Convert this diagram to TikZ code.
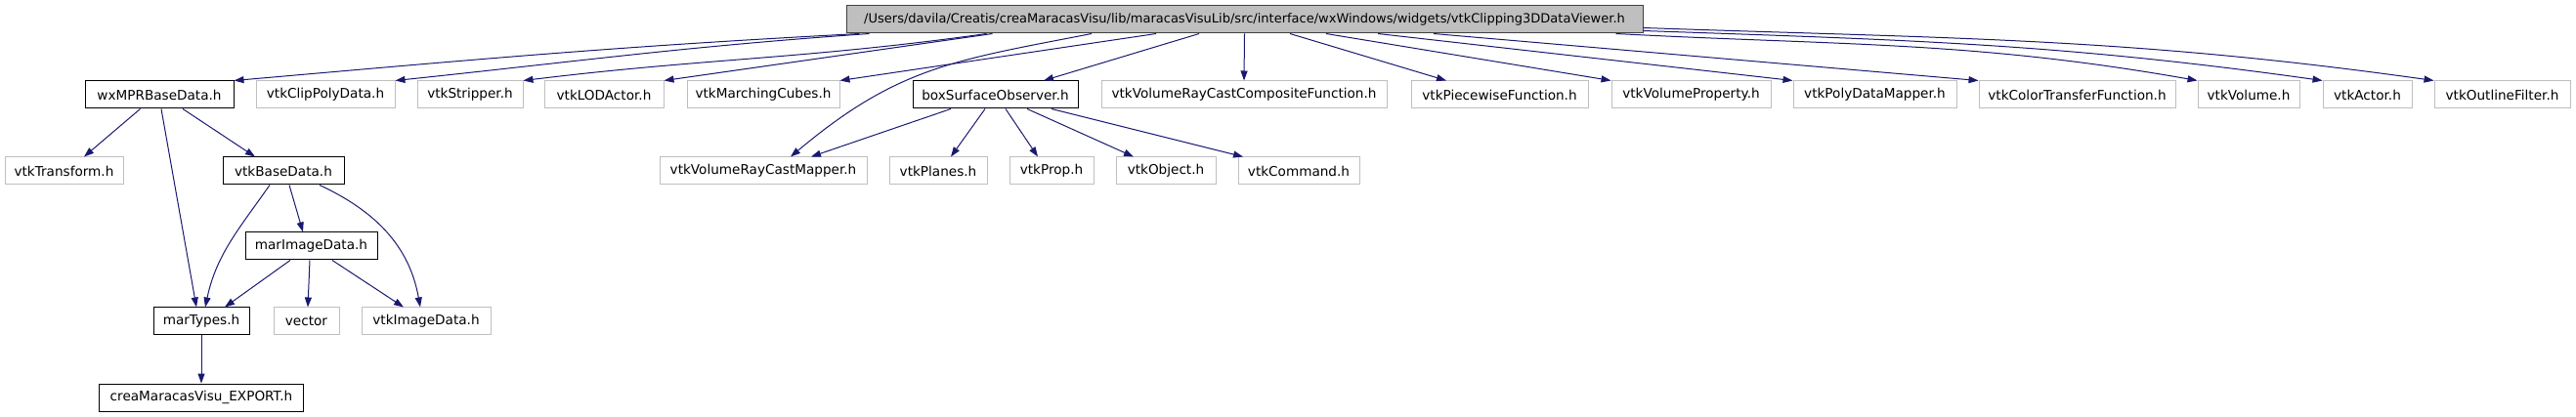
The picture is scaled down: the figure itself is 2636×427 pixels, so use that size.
\documentclass[tikz,border=0pt]{standalone}
\usepackage{fontspec}
\setmainfont{DejaVu Sans}
\usetikzlibrary{arrows.meta}
\definecolor{edgeblue}{HTML}{191970}
\definecolor{undocgray}{HTML}{BFBFBF}
\definecolor{rootfill}{HTML}{BFBFBF}
\definecolor{rootdraw}{HTML}{404040}
\begin{document}
\begin{tikzpicture}[x=1pt,y=-1pt,
  box/.style={rectangle, inner sep=0pt, minimum height=28pt, line width=1pt, fill=white,
    font=\fontsize{13.6}{16}\selectfont},
  doc/.style={box, draw=black},
  undoc/.style={box, draw=undocgray},
  rootbox/.style={box, draw=rootdraw, fill=rootfill, font=\fontsize{13.0}{16}\selectfont},
  dep/.style={draw=edgeblue, line width=1pt, -{Triangle[length=10pt,width=7pt]}}]
\useasboundingbox (0,0) rectangle (2636,427);
% row 0
\node[rootbox, minimum width=815pt] (root) at (1273.5,20) {/Users/davila/Creatis/creaMaracasVisu/lib/maracasVisuLib/src/interface/wxWindows/widgets/vtkClipping3DDataViewer.h};
% row 1
\node[doc, minimum width=152pt] (wxmpr) at (163,97) {wxMPRBaseData.h};
\node[undoc, minimum width=142pt] (clip) at (333,97) {vtkClipPolyData.h};
\node[undoc, minimum width=108pt] (strip) at (481,97) {vtkStripper.h};
\node[undoc, minimum width=122pt] (lod) at (618,97) {vtkLODActor.h};
\node[undoc, minimum width=156pt] (mc) at (781,97) {vtkMarchingCubes.h};
\node[doc, minimum width=169pt] (bso) at (1018.5,97) {boxSurfaceObserver.h};
\node[undoc, minimum width=292pt] (comp) at (1273,97) {vtkVolumeRayCastCompositeFunction.h};
\node[undoc, minimum width=181pt] (piece) at (1534.5,97) {vtkPiecewiseFunction.h};
\node[undoc, minimum width=163pt] (vprop) at (1730.5,97) {vtkVolumeProperty.h};
\node[undoc, minimum width=167pt] (pdm) at (1918.5,97) {vtkPolyDataMapper.h};
\node[undoc, minimum width=201pt] (ctf) at (2125.5,97) {vtkColorTransferFunction.h};
\node[undoc, minimum width=104pt] (vol) at (2301,97) {vtkVolume.h};
\node[undoc, minimum width=91pt] (actor) at (2422.5,97) {vtkActor.h};
\node[undoc, minimum width=139pt] (outline) at (2560.5,97) {vtkOutlineFilter.h};
% row 2
\node[undoc, minimum width=121pt] (transform) at (65.5,175) {vtkTransform.h};
\node[doc, minimum width=124pt] (basedata) at (290,175) {vtkBaseData.h};
\node[undoc, minimum width=212pt] (vrcm) at (781,175) {vtkVolumeRayCastMapper.h};
\node[undoc, minimum width=100pt] (planes) at (960,175) {vtkPlanes.h};
\node[undoc, minimum width=86pt] (prop) at (1076,175) {vtkProp.h};
\node[undoc, minimum width=102pt] (object) at (1193,175) {vtkObject.h};
\node[undoc, minimum width=124pt] (command) at (1329,175) {vtkCommand.h};
% row 3
\node[doc, minimum width=135pt] (marimg) at (318.5,252) {marImageData.h};
% row 4
\node[doc, minimum width=98pt] (martypes) at (206,329) {marTypes.h};
\node[undoc, minimum width=67pt] (vector) at (313.5,329) {vector};
\node[undoc, minimum width=132pt] (imgdata) at (436,329) {vtkImageData.h};
% row 5
\node[doc, minimum width=209pt] (crea) at (206,407) {creaMaracasVisu\_EXPORT.h};

% edges from root
\draw[dep] ([xshift=14pt]root.south west) to[out=183,in=5] (wxmpr.north east);
\draw[dep] ([xshift=24pt]root.south west) to[out=184,in=6] (clip.north east);
\draw[dep] ([xshift=144pt]root.south west) to[out=188,in=7] (strip.north east);
\draw[dep] ([xshift=150pt]root.south west) -- (lod.north east);
\draw[dep] ([xshift=-90.5pt]root.south) -- (mc.north east);
\draw[dep] ([xshift=-156.5pt]root.south) to[out=191,in=40,looseness=1.1] ([xshift=28pt]vrcm.north);
\draw[dep] ([xshift=-46.5pt]root.south) -- ([xshift=49.5pt]bso.north);
\draw[dep] (root.south) -- (comp.north);
\draw[dep] ([xshift=46.5pt]root.south) -- ([xshift=-54.5pt]piece.north);
\draw[dep] ([xshift=83.5pt]root.south) -- (vprop.north west);
\draw[dep] ([xshift=136.5pt]root.south) -- (pdm.north west);
\draw[dep] ([xshift=193.5pt]root.south) -- (ctf.north west);
\draw[dep] ([xshift=-28pt]root.south east) to[out=-3,in=170] (vol.north west);
\draw[dep] ([yshift=3pt]root.south east) to[out=-2,in=172] (actor.north west);
\draw[dep] ([yshift=6pt]root.south east) to[out=-2,in=172] (outline.north west);

% wxMPRBaseData
\draw[dep] ([xshift=-19.5pt]wxmpr.south) -- ([xshift=20.5pt]transform.north);
\draw[dep] ([xshift=2pt]wxmpr.south) -- ([xshift=-5pt]martypes.north);
\draw[dep] ([xshift=24pt]wxmpr.south) -- ([xshift=-29pt]basedata.north);
% vtkBaseData
\draw[dep] ([xshift=-14pt]basedata.south) to[out=235,in=78] ([xshift=4pt]martypes.north);
\draw[dep] ([xshift=6pt]basedata.south) -- ([xshift=-8.5pt]marimg.north);
\draw[dep] ([xshift=37pt]basedata.south) to[out=-25,in=100] ([xshift=-6pt]imgdata.north);
% marImageData
\draw[dep] ([xshift=-21.5pt]marimg.south) -- ([xshift=24pt]martypes.north);
\draw[dep] ([xshift=-1.5pt]marimg.south) -- ([xshift=1.5pt]vector.north);
\draw[dep] ([xshift=21.5pt]marimg.south) -- ([xshift=-23pt]imgdata.north);
% marTypes
\draw[dep] (martypes.south) -- (crea.north);
% boxSurfaceObserver
\draw[dep] ([xshift=-45.5pt]bso.south) -- ([xshift=49pt]vrcm.north);
\draw[dep] ([xshift=-10.5pt]bso.south) -- ([xshift=13pt]planes.north);
\draw[dep] ([xshift=10.5pt]bso.south) -- ([xshift=-14pt]prop.north);
\draw[dep] ([xshift=32.5pt]bso.south) -- ([xshift=-33pt]object.north);
\draw[dep] ([xshift=57.5pt]bso.south) -- ([xshift=-57pt]command.north);
\end{tikzpicture}
\end{document}
